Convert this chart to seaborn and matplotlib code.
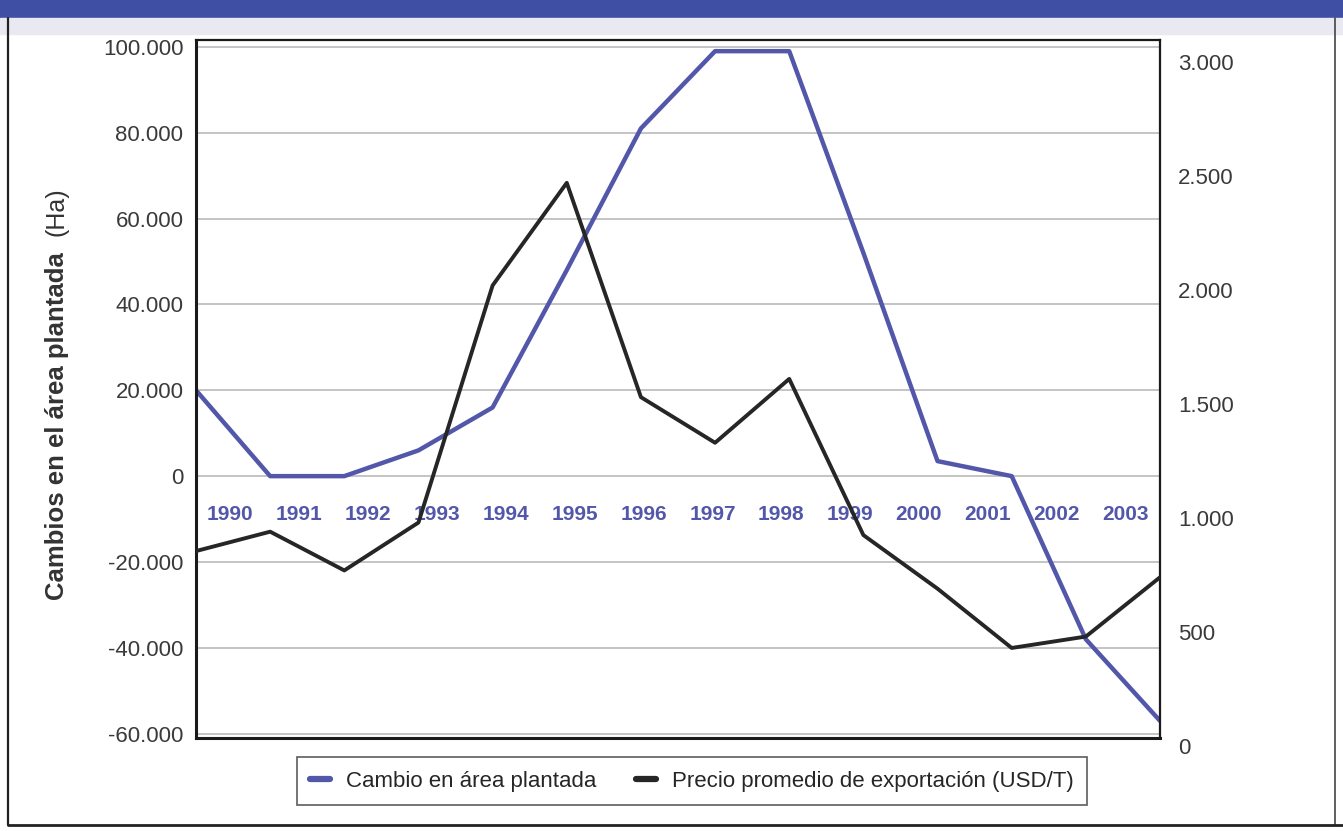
import seaborn as sns
import pandas as pd
import numpy as np
import matplotlib.pyplot as plt
from matplotlib.lines import Line2D
from matplotlib.patches import Rectangle
from matplotlib.ticker import FuncFormatter
import matplotlib.transforms as mtransforms

# data
years = list(range(1990, 2004))
cambio_area = [20000, 0, 0, 6000, 16000, 48000, 81000, 99000, 99000, 52000, 3500, 0, -38000, -57000]
precio_export = [855, 940, 770, 980, 2020, 2470, 1530, 1330, 1610, 925, 690, 430, 480, 740]
left_ticks = [-60000, -40000, -20000, 0, 20000, 40000, 60000, 80000, 100000]
right_ticks = [0, 500, 1000, 1500, 2000, 2500, 3000]
serie_area = "Cambio en área plantada"
serie_precio = "Precio promedio de exportación (USD/T)"

df = pd.DataFrame({"year": years, "area": cambio_area, "precio": precio_export})

sns.set_style("white")
plt.rcParams["font.family"] = ["Liberation Sans", "DejaVu Sans"]

blue = "#5257aa"
dark = "#262626"
W, H = 1343, 831
fig = plt.figure(figsize=(W / 100, H / 100), dpi=100)

def fx(px):
    return px / W

def fy(py):
    return 1 - py / H

# main axes (left scale)
ax = fig.add_axes([fx(196), fy(738), fx(1160 - 196), (738 - 40) / H])
# price axes (right scale), its labels sit a bit lower in the original
ax2 = fig.add_axes([fx(196), fy(746), fx(1160 - 196), (746 - 62) / H], sharex=ax)
ax2.patch.set_visible(False)

sns.lineplot(data=df, x="year", y="area", ax=ax, color=blue, linewidth=3.2, label=serie_area, legend=False)
sns.lineplot(data=df, x="year", y="precio", ax=ax2, color=dark, linewidth=2.8, label=serie_precio, legend=False)

fmt = FuncFormatter(lambda v, p: f"{int(v):,}".replace(",", "."))

ax.set_xlim(1990, 2003)
ax.set_ylim(-61000, 101600)
ax.set_yticks(left_ticks)
ax.yaxis.set_major_formatter(fmt)
ax.grid(axis="y", color="#c4c4c4", linewidth=1.4)
ax.set_axisbelow(True)
ax.set_xticks([])
ax.set_xlabel("")
ax.set_ylabel("")
ax.tick_params(axis="y", labelsize=16, labelcolor="#3a3a3a", length=0, pad=9)
for s in ["left", "bottom"]:
    ax.spines[s].set_color("#1a1a1a")
    ax.spines[s].set_linewidth(2.2)
for s in ["top", "right"]:
    ax.spines[s].set_color("#1a1a1a")
    ax.spines[s].set_linewidth(1.6)

ax2.set_ylim(0, 3000)
ax2.set_yticks(right_ticks)
ax2.yaxis.tick_right()
ax2.yaxis.set_major_formatter(fmt)
ax2.tick_params(axis="y", labelsize=16, labelcolor="#3a3a3a", length=0, pad=13)
ax2.tick_params(axis="x", bottom=False, labelbottom=False)
ax2.set_xlabel("")
ax2.set_ylabel("")
for s in ax2.spines.values():
    s.set_visible(False)

# year labels inside the plot, just under the zero line
trans = mtransforms.blended_transform_factory(ax.transAxes, ax.transData)
for i, yr in enumerate(years):
    ax.text((i + 0.5) / len(years), -9000, str(yr), transform=trans, ha="center", va="center",
            fontsize=15, fontweight="bold", color=blue)

# y label: bold part plus unit, unit placed right after the bold text
lab = fig.text(fx(57), fy(600), "Cambios en el área plantada", rotation=90, ha="center", va="bottom",
               fontsize=18.5, fontweight="bold", color="#333333")
fig.canvas.draw()
top_px = lab.get_window_extent().y1
fig.text(fx(57), (top_px + 16) / H, "(Ha)", rotation=90, ha="center", va="bottom",
         fontsize=18, color="#333333")

# legend
handles = [Line2D([], [], color=blue, linewidth=4.5), Line2D([], [], color=dark, linewidth=4.5)]
leg = fig.legend(handles, [serie_area, serie_precio], loc="center", ncol=2,
                 bbox_to_anchor=(fx(692), fy(781)), frameon=True, fancybox=False,
                 fontsize=16, handlelength=0.9, columnspacing=1.8, borderpad=0.6,
                 handletextpad=0.7, borderaxespad=0)
leg.get_frame().set_edgecolor("#333333")
leg.get_frame().set_linewidth(1.2)

# page decoration: top band and outer frame
fig.patches.append(Rectangle((0, fy(18)), 1, 18 / H, transform=fig.transFigure, color="#3f4fa3", zorder=0))
fig.patches.append(Rectangle((0, fy(34)), 1, 16 / H, transform=fig.transFigure, color="#e9e9f2", zorder=0))
fig.lines.append(Line2D([fx(8), fx(8)], [fy(18), fy(825)], transform=fig.transFigure, color="#222222", linewidth=1.6))
fig.lines.append(Line2D([fx(1335), fx(1335)], [fy(18), fy(825)], transform=fig.transFigure, color="#444444", linewidth=1.2))
fig.lines.append(Line2D([fx(8), fx(1343)], [fy(825), fy(825)], transform=fig.transFigure, color="#222222", linewidth=2))

fig.savefig("out.png", dpi=100)
